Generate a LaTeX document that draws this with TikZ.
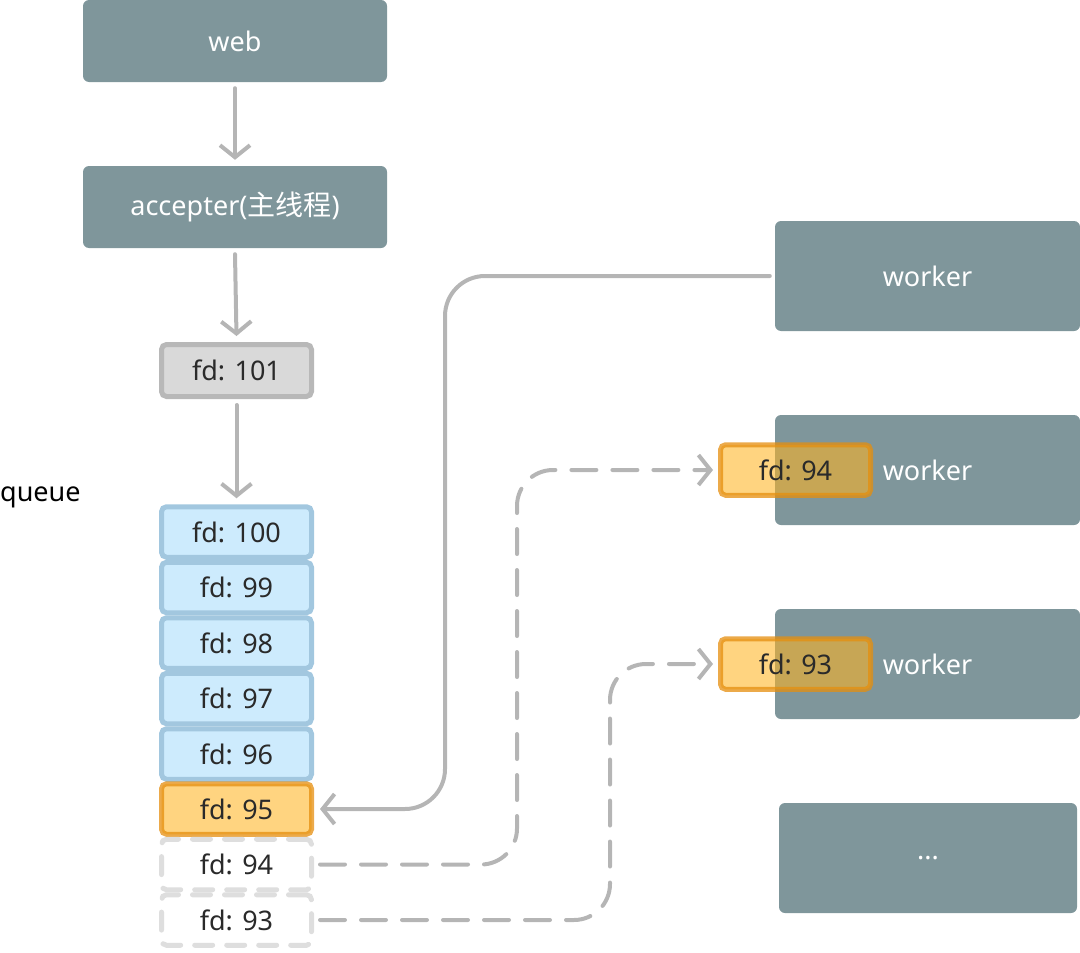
\documentclass[tikz,border=0pt]{standalone}
\usepackage{fontspec}
\setmainfont{Noto Sans}
\newfontfamily\cjk{Noto Sans CJK SC}
\usetikzlibrary{arrows.meta}
\definecolor{wk}{HTML}{7F969B}
\definecolor{arr}{HTML}{B5B5B5}
\definecolor{gfill}{HTML}{D9D9D9}
\definecolor{gline}{HTML}{B8B8B8}
\definecolor{bfill}{HTML}{CDEBFD}
\definecolor{bline}{HTML}{A2C7DF}
\definecolor{ofill}{HTML}{FFB320}
\definecolor{oline}{HTML}{E58E0E}
\definecolor{dline}{HTML}{DEDEDE}
\definecolor{txt}{HTML}{2A2A2A}
\begin{document}
\begin{tikzpicture}[x=1pt,y=-1pt,
  txtf/.style={font=\fontsize{27}{32}\selectfont},
  bigbox/.style={rectangle, rounded corners=6pt, fill=wk, text=white, txtf, inner sep=0pt, minimum width=304pt, minimum height=82pt},
  wbox/.style={bigbox, minimum width=305pt, minimum height=110pt},
  fdbase/.style={rectangle, rounded corners=5pt, line width=5pt, txtf, text=txt, inner sep=0pt, minimum width=150pt, minimum height=50.5pt},
  fdgray/.style={fdbase, fill=gfill, draw=gline, minimum height=52pt},
  fdblue/.style={fdbase, fill=bfill, draw=bline},
  fdorange/.style={fdbase, fill=ofill, fill opacity=0.57, draw=oline, draw opacity=0.75, text opacity=1},
  fddash/.style={fdbase, fill=white, draw=dline, dash pattern=on 18pt off 14pt, line cap=round},
  conn/.style={draw=arr, line width=4pt, line cap=round, -{Straight Barb[length=12pt,width=30pt,line width=4pt]}},
  dconn/.style={conn, dash pattern=on 25pt off 16pt, rounded corners=36pt},
]
\useasboundingbox (0,0) rectangle (1080,953);
% left column
\node[bigbox] (web) at (235,41) {web};
\node[bigbox] (acc) at (235,207) {accepter({\cjk\fontsize{28}{32}\selectfont 主线程})};
\node[fdgray] (f101) at (236.5,370.5) {fd: 101};
\node[txtf, anchor=west, inner sep=0pt] (queue) at (0,497) {queue};
\node[fdblue] (f100) at (236.5,532) {fd: 100};
\node[fdblue] (f99) at (236.5,587.5) {fd: 99};
\node[fdblue] (f98) at (236.5,643) {fd: 98};
\node[fdblue] (f97) at (236.5,698.5) {fd: 97};
\node[fdblue] (f96) at (236.5,754) {fd: 96};
\node[fdorange] (f95) at (236.5,809) {fd: 95};
\node[fddash] (f94) at (236.5,864.5) {fd: 94};
\node[fddash] (f93) at (236.5,920) {fd: 93};
% workers
\node[wbox] (w1) at (927.5,276) {worker};
\node[wbox] (w2) at (927.5,470) {worker};
\node[wbox] (w3) at (927.5,664) {worker};
\node[wbox, minimum width=298pt, text depth=0pt] (w4) at (928,858) {...};
\node[fdorange] (s94) at (795.5,470) {fd: 94};
\node[fdorange] (s93) at (795.5,664) {fd: 93};
% connectors
\draw[conn] ([yshift=-6pt]web.south) -- ([yshift=6pt]acc.north);
\draw[conn] ([yshift=-6pt]acc.south) -- ([yshift=6pt]f101.north);
\draw[conn] ([yshift=-6pt]f101.south) -- ([yshift=6pt]f100.north);
\draw[conn, rounded corners=40pt] ([xshift=-5pt]w1.west) -- (445,276) -- (445,809) -- ([xshift=6pt]f95.east);
\draw[dconn] ([xshift=6pt]f94.east) -- (517,864.5) -- (517,470) -- ([xshift=-5pt]s94.west);
\draw[dconn] ([xshift=6pt]f93.east) -- (610,920) -- (610,664) -- ([xshift=-5pt]s93.west);
\end{tikzpicture}
\end{document}
